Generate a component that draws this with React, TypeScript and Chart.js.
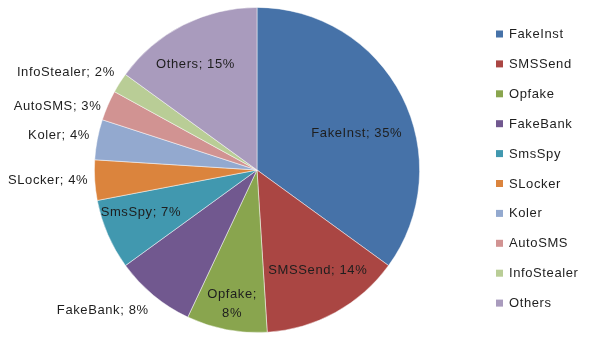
import React, { useEffect, useRef } from "react";
import { Chart, registerables } from "chart.js";

Chart.register(...registerables);

const categories = ["FakeInst", "SMSSend", "Opfake", "FakeBank", "SmsSpy", "SLocker", "Koler", "AutoSMS", "InfoStealer", "Others"];
const shares = [35, 14, 8, 8, 7, 4, 4, 3, 2, 15];
const colors = ["#4672A8", "#AA4643", "#89A54E", "#71588F", "#4198AF", "#DB843D", "#93A9CF", "#D19392", "#B9CD96", "#A99BBD"];

// label placement style: radial factor, angle offset (deg), alignment, line split
const labelStyle = [
  { f: 0.654, da: 6.7, align: "center", split: false },
  { f: 0.724, da: -2.3, align: "center", split: false },
  { f: 0.84, da: -0.3, align: "center", split: true },
  { f: 1.09, da: -1.9, align: "right", split: false },
  { f: 0.76, da: 3.4, align: "center", split: false },
  { f: 1.04, da: -0.1, align: "right", split: false },
  { f: 1.05, da: 1.0, align: "right", split: false },
  { f: 1.035, da: -1.1, align: "right", split: false },
  { f: 1.06, da: 2.0, align: "right", split: false },
  { f: 0.75, da: -3.3, align: "center", split: false },
];

const FONT = "13px 'Liberation Sans', Arial, sans-serif";
const SPACING = "0.6px";

const labelPlugin = {
  id: "sliceLabels",
  afterDatasetsDraw(chart: any) {
    const ctx = chart.ctx;
    const meta = chart.getDatasetMeta(0);
    ctx.save();
    ctx.font = FONT;
    (ctx as any).letterSpacing = SPACING;
    ctx.fillStyle = "#1e1e1e";
    ctx.textBaseline = "middle";
    meta.data.forEach((arc: any, i: number) => {
      const { x, y, startAngle, endAngle, outerRadius } = arc.getProps(["x", "y", "startAngle", "endAngle", "outerRadius"], true);
      const st = labelStyle[i];
      const a = (startAngle + endAngle) / 2 + (st.da * Math.PI) / 180;
      const px = x + Math.cos(a) * outerRadius * st.f;
      const py = y + Math.sin(a) * outerRadius * st.f;
      ctx.textAlign = st.align;
      const text = `${categories[i]}; ${shares[i]}%`;
      if (st.split) {
        ctx.fillText(`${categories[i]};`, px, py - 10);
        ctx.fillText(`${shares[i]}%`, px, py + 9);
      } else {
        ctx.fillText(text, px, py);
      }
    });
    ctx.restore();
  },
};

const legendPlugin = {
  id: "sideLegend",
  afterDraw(chart: any) {
    const ctx = chart.ctx;
    ctx.save();
    ctx.font = FONT;
    (ctx as any).letterSpacing = SPACING;
    ctx.textBaseline = "middle";
    ctx.textAlign = "left";
    const x0 = 496;
    const y0 = 34;
    const step = 29.9;
    categories.forEach((c, i) => {
      const y = y0 + i * step;
      ctx.fillStyle = colors[i];
      ctx.fillRect(x0, y - 3.5, 7, 7);
      ctx.fillStyle = "#1e1e1e";
      ctx.fillText(c, x0 + 13, y + 0.5);
    });
    ctx.restore();
  },
};

export default function App() {
  const ref = useRef<HTMLCanvasElement>(null);
  useEffect(() => {
    const chart = new Chart(ref.current!, {
      type: "pie",
      data: {
        labels: categories,
        datasets: [
          {
            data: shares,
            backgroundColor: colors,
            borderColor: "rgba(255,255,255,0.6)",
            borderWidth: 0.8,
          },
        ],
      },
      options: {
        animation: false,
        responsive: false,
        maintainAspectRatio: false,
        layout: { padding: { left: 94, right: 170, top: 7, bottom: 24 } },
        plugins: {
          legend: { display: false },
          tooltip: { enabled: false },
        },
      },
      plugins: [labelPlugin, legendPlugin],
    });
    return () => chart.destroy();
  }, []);
  return (
    <div style={{ position: "fixed", left: 0, top: 0, width: 590, height: 357, background: "#fff" }}>
      <canvas ref={ref} width={590} height={357} style={{ width: 590, height: 357 }} />
    </div>
  );
}
